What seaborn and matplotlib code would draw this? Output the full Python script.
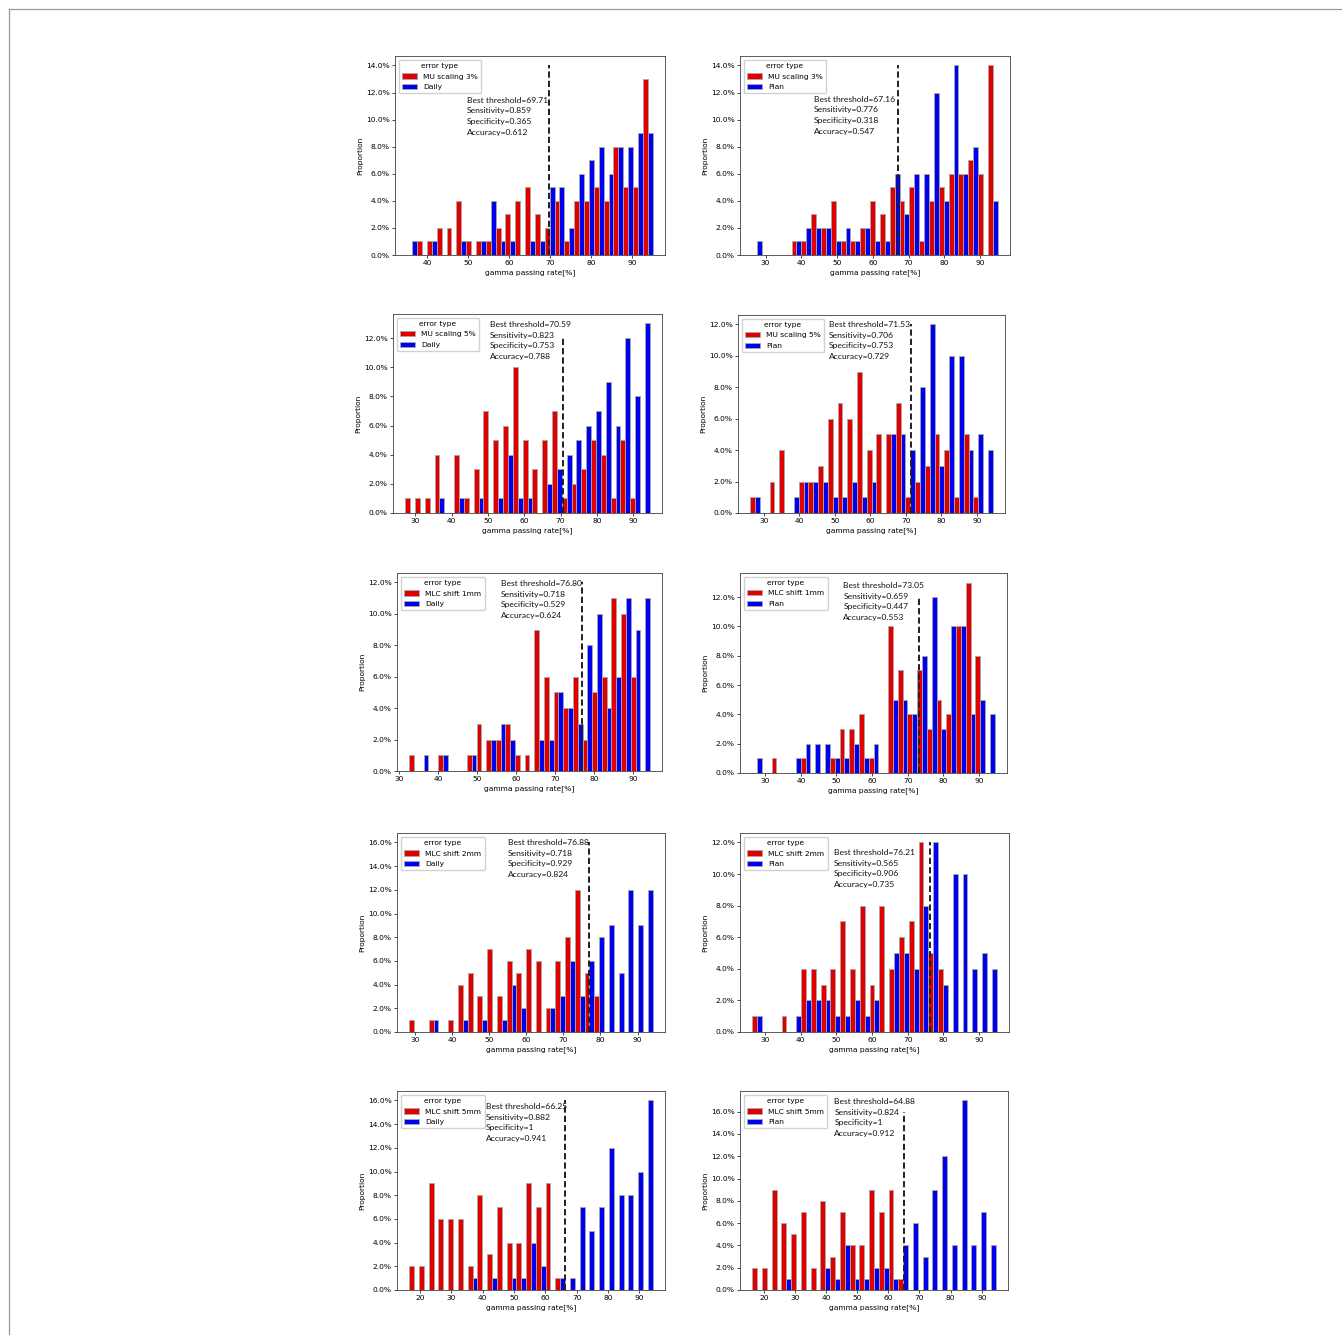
import numpy as np
import pandas as pd
import matplotlib
matplotlib.use("Agg")
import matplotlib.pyplot as plt
import seaborn as sns
from matplotlib.ticker import PercentFormatter
from matplotlib.lines import Line2D

# ---------------- data (proportions in %, one value per histogram bin, 25 bins) ----------------
error_labels = ["MU scaling 3%", "MU scaling 3%", "MU scaling 5%", "MU scaling 5%",
                "MLC shift 1mm", "MLC shift 1mm", "MLC shift 2mm", "MLC shift 2mm",
                "MLC shift 5mm", "MLC shift 5mm"]
reference_labels = ["Daily", "Plan", "Daily", "Plan", "Daily", "Plan", "Daily", "Plan", "Daily", "Plan"]

# combined data range of each panel (gamma passing rate, %)
range_lo = [35.2, 26.3, 27.2, 26.1, 32.5, 26.3, 28.5, 26.4, 16.5, 16.3]
range_hi = [95.0, 94.9, 94.6, 94.5, 94.3, 94.5, 94.1, 95.0, 94.3, 94.5]

error_p1 = [0, 1, 1, 2, 2, 4, 1, 1, 1, 2, 3, 4, 5, 3, 2, 4, 1, 4, 4, 5, 4, 8, 5, 5, 13]
ref_p1 = [1, 0, 1, 0, 0, 1, 0, 1, 4, 1, 1, 0, 1, 1, 5, 5, 2, 6, 7, 8, 6, 8, 8, 9, 9]

error_p2 = [0, 0, 0, 0, 1, 1, 3, 2, 4, 1, 1, 2, 4, 3, 5, 4, 5, 1, 4, 5, 6, 6, 7, 6, 14]
ref_p2 = [1, 0, 0, 0, 1, 2, 2, 2, 1, 2, 1, 2, 1, 1, 6, 3, 6, 6, 12, 4, 14, 6, 8, 0, 4]

error_p3 = [1, 1, 1, 4, 0, 4, 1, 3, 7, 5, 6, 10, 5, 3, 5, 7, 1, 2, 3, 5, 4, 1, 5, 1, 0]
ref_p3 = [0, 0, 0, 1, 0, 1, 0, 1, 0, 1, 4, 1, 1, 0, 2, 3, 4, 5, 6, 7, 9, 6, 12, 8, 13]

error_p4 = [1, 0, 2, 4, 0, 2, 2, 3, 6, 7, 6, 9, 4, 5, 5, 7, 1, 2, 3, 5, 4, 1, 5, 1, 0]
ref_p4 = [1, 0, 0, 0, 1, 2, 2, 2, 1, 1, 2, 1, 2, 0, 5, 5, 4, 8, 12, 3, 10, 10, 4, 5, 4]

error_p5 = [1, 0, 0, 1, 0, 0, 1, 3, 2, 2, 3, 1, 1, 9, 6, 5, 4, 6, 2, 5, 6, 11, 10, 6, 0]
ref_p5 = [0, 1, 0, 1, 0, 0, 1, 0, 2, 3, 2, 0, 0, 2, 2, 5, 4, 3, 8, 10, 4, 6, 11, 9, 11]

error_p6 = [0, 0, 1, 0, 0, 1, 0, 0, 1, 3, 3, 4, 1, 0, 10, 7, 4, 7, 3, 5, 4, 10, 13, 8, 0]
ref_p6 = [1, 0, 0, 0, 1, 2, 2, 2, 1, 1, 2, 1, 2, 0, 5, 5, 4, 8, 12, 3, 10, 10, 4, 5, 4]

error_p7 = [1, 0, 1, 0, 1, 4, 5, 3, 7, 3, 6, 5, 7, 6, 2, 6, 8, 12, 5, 3, 0, 0, 0, 0, 0]
ref_p7 = [0, 0, 1, 0, 0, 1, 0, 1, 0, 1, 4, 2, 0, 0, 2, 3, 6, 3, 6, 8, 9, 5, 12, 9, 12]

error_p8 = [1, 0, 0, 1, 0, 4, 4, 3, 4, 7, 4, 8, 3, 8, 4, 6, 7, 12, 5, 4, 0, 0, 0, 0, 0]
ref_p8 = [1, 0, 0, 0, 1, 2, 2, 2, 1, 1, 2, 1, 2, 0, 5, 5, 4, 8, 12, 3, 10, 10, 4, 5, 4]

error_p9 = [2, 2, 9, 6, 6, 6, 2, 8, 3, 7, 4, 4, 9, 7, 9, 1, 0, 0, 0, 0, 0, 0, 0, 0, 0]
ref_p9 = [0, 0, 0, 0, 0, 0, 1, 0, 1, 0, 1, 1, 4, 2, 0, 1, 1, 7, 5, 7, 12, 8, 8, 10, 16]

error_p10 = [2, 2, 9, 6, 5, 7, 2, 8, 3, 7, 4, 4, 9, 7, 9, 1, 0, 0, 0, 0, 0, 0, 0, 0, 0]
ref_p10 = [0, 0, 0, 1, 0, 0, 0, 2, 1, 4, 1, 1, 2, 2, 1, 4, 6, 3, 9, 12, 4, 17, 4, 7, 4]

thresholds = [69.71, 67.16, 70.59, 71.53, 76.80, 73.05, 76.88, 76.21, 66.25, 64.88]
sensitivity = ["0.859", "0.776", "0.823", "0.706", "0.718", "0.659", "0.718", "0.565", "0.882", "0.824"]
specificity = ["0.365", "0.318", "0.753", "0.753", "0.529", "0.447", "0.929", "0.906", "1", "1"]
accuracy = ["0.612", "0.547", "0.788", "0.729", "0.624", "0.553", "0.824", "0.735", "0.941", "0.912"]
threshold_line_top = [14, 14, 12, 12, 12, 12, 16, 12, 16, 16]

error_values = [error_p1, error_p2, error_p3, error_p4, error_p5,
                error_p6, error_p7, error_p8, error_p9, error_p10]
ref_values = [ref_p1, ref_p2, ref_p3, ref_p4, ref_p5, ref_p6, ref_p7, ref_p8, ref_p9, ref_p10]

# ---------------- layout (pixel boxes in the 1342x1335 image: left, top, right, bottom) ----------------
W, H = 1342, 1335
axes_boxes = [(395, 56, 665, 255), (740, 56, 1010, 255),
              (393, 314, 662, 513), (738, 315, 1005, 513),
              (397, 573, 662, 771), (740, 573, 1007, 773),
              (397, 833, 665, 1032), (740, 833, 1009, 1032),
              (397, 1091, 665, 1290), (740, 1091, 1008, 1290)]
text_pos = [(0.265, 0.795), (0.274, 0.80), (0.36, 0.965), (0.339, 0.97), (0.391, 0.965),
            (0.387, 0.955), (0.414, 0.97), (0.35, 0.92), (0.332, 0.94), (0.352, 0.965)]

RED = "#e00000"
BLUE = "#0000f0"
FS = 5.4
N_BINS = 25

plt.rcParams.update({
    "font.family": ["DejaVu Sans"],
    "axes.linewidth": 0.6,
    "xtick.major.width": 0.5, "ytick.major.width": 0.5,
    "xtick.major.size": 2.0, "ytick.major.size": 2.0,
    "xtick.major.pad": 1.8, "ytick.major.pad": 1.8,
    "xtick.labelsize": FS, "ytick.labelsize": FS,
    "axes.labelsize": FS,
    "axes.labelpad": 2.0,
})

fig = plt.figure(figsize=(W / 100, H / 100), dpi=100)
fig.patch.set_facecolor("white")

for i in range(10):
    l, t, r, b = axes_boxes[i]
    ax = fig.add_axes([l / W, 1 - b / H, (r - l) / W, (b - t) / H])
    lo, hi = range_lo[i], range_hi[i]
    bw = (hi - lo) / N_BINS
    rows = []
    for k in range(N_BINS):
        c = lo + (k + 0.5) * bw
        if error_values[i][k] > 0:
            rows.append((c, error_values[i][k] / 100.0, error_labels[i]))
        if ref_values[i][k] > 0:
            rows.append((c, ref_values[i][k] / 100.0, reference_labels[i]))
    df = pd.DataFrame(rows, columns=["rate", "prop", "error type"])
    sns.histplot(data=df, x="rate", weights="prop", hue="error type",
                 hue_order=[error_labels[i], reference_labels[i]],
                 palette=[RED, BLUE], multiple="dodge", bins=N_BINS, binrange=(lo, hi),
                 shrink=1.0, alpha=1.0, edgecolor="#a8a8a8", linewidth=0.6, ax=ax)
    ax.plot([thresholds[i], thresholds[i]], [0, threshold_line_top[i] / 100.0],
            color="#202020", linestyle=(0, (3.2, 1.6)), linewidth=1.4)
    ax.autoscale_view()
    ax.yaxis.set_major_formatter(PercentFormatter(1.0, decimals=1))
    ax.set_xlabel("gamma passing rate[%]", fontsize=FS)
    ax.set_ylabel("Proportion", fontsize=FS)
    for s in ax.spines.values():
        s.set_color("#404040")
    sns.move_legend(ax, "upper left", fontsize=FS, title_fontsize=FS,
                    frameon=True, borderpad=0.45, handlelength=2.0, labelspacing=0.55,
                    handletextpad=0.8, borderaxespad=0.5, fancybox=True, framealpha=0.9)
    txt = (f"Best threshold={thresholds[i]:.2f}\nSensitivity={sensitivity[i]}\n"
           f"Specificity={specificity[i]}\nAccuracy={accuracy[i]}")
    ax.text(text_pos[i][0], text_pos[i][1], txt, transform=ax.transAxes,
            ha="left", va="top", fontsize=6.1, family=["Lato", "DejaVu Sans"],
            linespacing=1.6, color="#111111")

# thin frame lines of the original figure
fig.add_artist(Line2D([9 / W, 1.0], [1 - 9 / H, 1 - 9 / H], transform=fig.transFigure,
                      color="#9a9a9a", linewidth=0.9))
fig.add_artist(Line2D([9 / W, 9 / W], [1 - 9 / H, 0.0], transform=fig.transFigure,
                      color="#9a9a9a", linewidth=0.9))

fig.savefig("out.png", dpi=100, facecolor="white")
